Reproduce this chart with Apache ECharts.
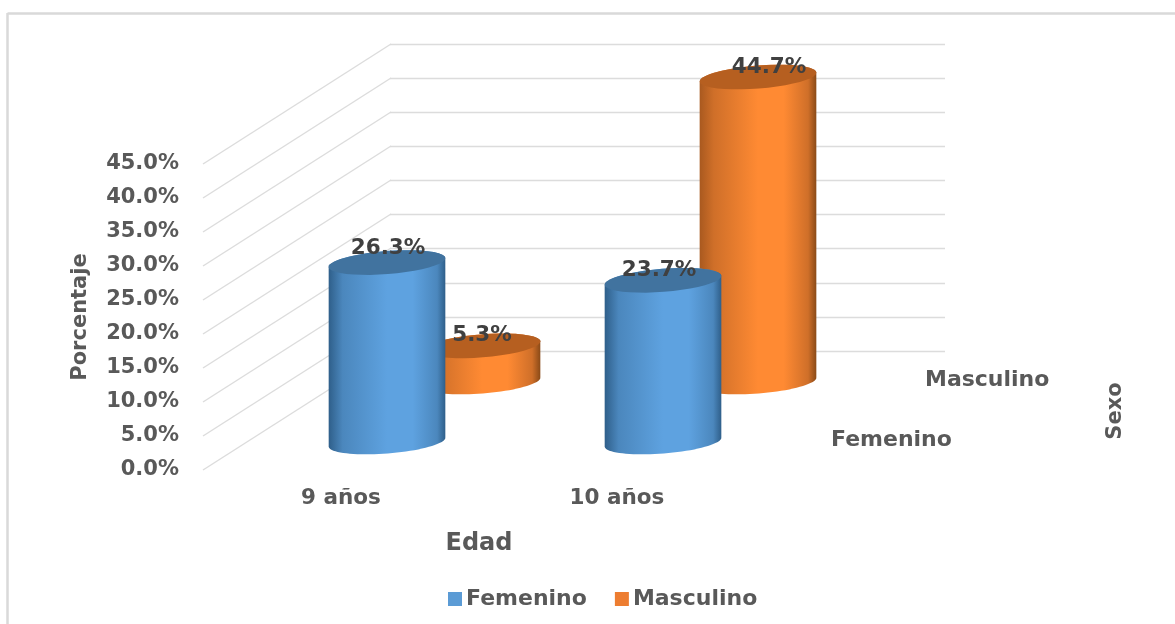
<!DOCTYPE html>
<html><head><meta charset="utf-8">
<style>html,body{margin:0;padding:0;background:#fff}#c{width:1175px;height:624px}</style>
<script src="https://cdn.jsdelivr.net/npm/echarts@6/dist/echarts.min.js"></script>
</head><body><div id="c"></div>
<script>
const categories = ['9 años', '10 años'];
const femenino = [26.3, 23.7];
const masculino = [5.3, 44.7];
const sexes = ['Femenino', 'Masculino'];
const yTicks = [0, 5, 10, 15, 20, 25, 30, 35, 40, 45];

const FONT = '"DejaVu Sans"';
const GRAY = '#595959';
const txt = (size, color) => ({ fontFamily: FONT, fontWeight: 'bold', fontSize: size, color: color || GRAY });
const labelNudge = { Femenino: [[1, -14], [-4, -10]], Masculino: [[0, -10], [11, -10]] };

function ellipsePts(cx, cy, rx, ry, rot, from, to) {
  const pts = [];
  for (let i = 0; i <= 40; i++) {
    const t = from + (to - from) * i / 40;
    const x = rx * Math.cos(t), y = ry * Math.sin(t);
    pts.push([cx + x * Math.cos(rot) - y * Math.sin(rot), cy + x * Math.sin(rot) + y * Math.cos(rot)]);
  }
  return pts;
}
function cylinder(colors) {
  return function (params, api) {
    const idx = api.value(0), val = api.value(1);
    const top = api.coord([idx, val]), base = api.coord([idx, 0]);
    const rx = api.size([1, 0])[0] * 0.212, ry = 11.5, rot = -4.5 * Math.PI / 180;
    // visible shell: the right-to-left lower half of the base, then the top ellipse's far edge is covered by the cap
    const lower = ellipsePts(base[0], base[1], rx, ry, rot, 0, Math.PI);
    const upper = ellipsePts(top[0], top[1], rx, ry, rot, Math.PI, 2 * Math.PI);
    const nudge = labelNudge[params.seriesName][params.dataIndex];
    return {
      type: 'group',
      children: [
        { type: 'polygon', shape: { points: lower.concat(upper) }, style: {
            fill: new echarts.graphic.LinearGradient(0, 0, 1, 0, [
              { offset: 0, color: colors[0] }, { offset: 0.12, color: colors[1] },
              { offset: 0.5, color: colors[2] }, { offset: 0.72, color: colors[2] },
              { offset: 0.93, color: colors[1] }, { offset: 1, color: colors[3] }]) } },
        { type: 'polygon', shape: { points: ellipsePts(top[0], top[1], rx, ry, rot, 0, 2 * Math.PI) },
          style: { fill: colors[4] } },
        { type: 'text', z2: 100, style: {
            x: top[0] + nudge[0], y: top[1] + nudge[1], text: val.toFixed(1) + '%',
            align: 'center', verticalAlign: 'middle',
            font: 'bold 21.5px ' + FONT, fill: '#404040' } }
      ]
    };
  };
}
function sideWall(params, api) {
  const v = api.coord([0, api.value(0)]);
  const x0 = params.coordSys.x;
  return { type: 'line', shape: { x1: x0, y1: v[1], x2: x0 + 188, y2: v[1] - 120 },
           style: { stroke: '#dcdcdc', lineWidth: 1.4 } };
}
const hiddenX = i => ({ type: 'category', gridIndex: i, data: categories, show: false });
const hiddenY = i => ({ type: 'value', gridIndex: i, min: 0, max: 45, interval: 5, show: false });

const chart = echarts.init(document.getElementById('c'), null, { renderer: 'canvas' });
chart.setOption({
  animation: false,
  backgroundColor: '#ffffff',
  grid: [
    { left: 203, top: 164, width: 552, height: 306 },          // front scale with the tick labels
    { left: 390, top: 44, width: 555, height: 307 },           // back wall
    { left: 249, top: 135, width: 552, height: 307 },          // Femenino row
    { left: 344, top: 75, width: 552, height: 307 }            // Masculino row
  ],
  xAxis: [
    { type: 'category', gridIndex: 0, data: categories, axisLine: { show: false }, axisTick: { show: false },
      axisLabel: Object.assign(txt(21.5), { margin: 17 }),
      name: 'Edad', nameLocation: 'middle', nameGap: 62, nameTextStyle: txt(24) },
    { type: 'category', gridIndex: 1, data: categories, show: false },
    hiddenX(2), hiddenX(3)
  ],
  yAxis: [
    { type: 'value', gridIndex: 0, min: 0, max: 45, interval: 5, axisLine: { show: false }, axisTick: { show: false },
      splitLine: { show: false },
      axisLabel: Object.assign(txt(21), { margin: 24, formatter: v => v.toFixed(1) + '%' }),
      name: 'Porcentaje', nameLocation: 'middle', nameGap: 112, nameRotate: 90, nameTextStyle: txt(21) },
    { type: 'value', gridIndex: 1, min: 0, max: 45, interval: 5, axisLine: { show: false }, axisTick: { show: false },
      axisLabel: { show: false }, splitLine: { show: true, lineStyle: { color: '#dcdcdc', width: 1.4 } } },
    hiddenY(2), hiddenY(3)
  ],
  legend: {
    data: sexes, left: 443, top: 583, icon: 'rect', itemWidth: 14, itemHeight: 14, itemGap: 28,
    textStyle: Object.assign(txt(22), { padding: [0, 0, 0, -1] })
  },
  graphic: [
    { type: 'line', silent: true, shape: { x1: 7.5, y1: 13.5, x2: 1175, y2: 13.5 }, style: { stroke: '#d9d9d9', lineWidth: 2.5 } },
    { type: 'line', silent: true, shape: { x1: 7.5, y1: 13, x2: 7.5, y2: 624 }, style: { stroke: '#d9d9d9', lineWidth: 2.5 } },
    { type: 'text', left: 925, top: 369, style: { text: sexes[1], font: 'bold 22px ' + FONT, fill: GRAY } },
    { type: 'text', left: 831, top: 429, style: { text: sexes[0], font: 'bold 22px ' + FONT, fill: GRAY } },
    { type: 'text', x: 1116, y: 411, rotation: Math.PI / 2, style: { text: 'Sexo', font: 'bold 21px ' + FONT, fill: GRAY, align: 'center', verticalAlign: 'middle' } }
  ],
  series: [
    { type: 'custom', name: 'wall', xAxisIndex: 0, yAxisIndex: 0, renderItem: sideWall, data: yTicks.map(v => [v]), silent: true, z: 1 },
    { type: 'custom', name: 'Masculino', xAxisIndex: 3, yAxisIndex: 3, z: 3, itemStyle: { color: '#ed7d31' },
      encode: { x: 0, y: 1 }, renderItem: cylinder(['#a9591f', '#cf6f29', '#ff8a33', '#8a4a17', '#b65f20']),
      data: masculino.map((v, i) => [i, v]) },
    { type: 'custom', name: 'Femenino', xAxisIndex: 2, yAxisIndex: 2, z: 4, itemStyle: { color: '#5b9bd5' },
      encode: { x: 0, y: 1 }, renderItem: cylinder(['#2f5f8a', '#4b87bd', '#5ea2e0', '#2f5f8a', '#41739f']),
      data: femenino.map((v, i) => [i, v]) }
  ]
});
</script></body></html>
